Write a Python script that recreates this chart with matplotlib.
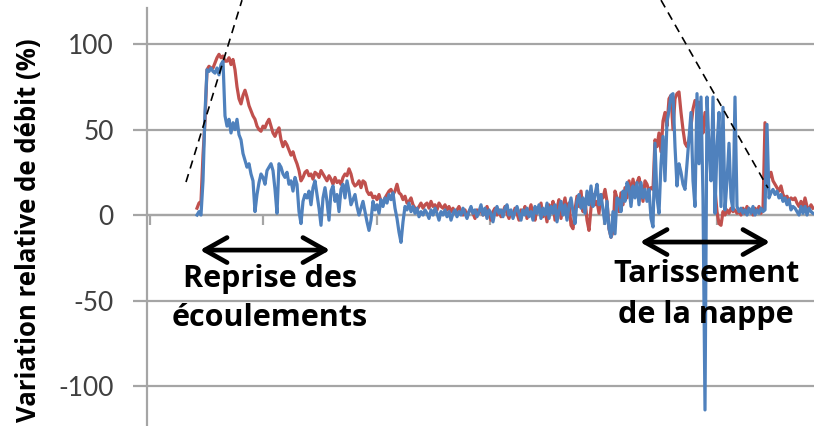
import numpy as np
import matplotlib.pyplot as plt

# variation relative de debit (%) - serie rouge (une valeur par jour)
debit_rouge = [
    4, 7, 8, 35, 55, 85, 87, 86, 86, 89, 92, 94, 92, 93, 90, 90, 92, 88, 91, 85,
    75, 68, 65, 70, 73, 69, 64, 61, 58, 56, 52, 50, 49, 52, 51, 54, 56, 52, 48, 46,
    49, 51, 44, 40, 43, 41, 38, 35, 37, 33, 30, 26, 20,
    22, 25, 26, 23, 24, 21, 25, 24, 22, 26, 24, 22, 20, 23, 21, 18, 22, 19, 20, 18,
    22, 24, 23, 27, 24, 19, 17, 18, 20, 16, 20, 19, 14, 12, 13, 10, 11, 9, 12, 8,
    7, 10, 12, 14, 15, 12, 14, 18, 13, 12, 9, 11, 7, 8, 10, 6, 4, 3, 5, 7,
    4, 6, 7, 4, 8, 5, 6, 3, 7, 5, 4, 6, 3, 5,
    2, 4, 1, 3, 5, 2, 0, 3, -1, 2, 4, 1, -2, 3, 1, 4, 0, 2, 5, 1,
    -3, 2, 4, 0, 3, -1, 2, 5, 1, -2, 2, 0, 4, 1, -3, 3, 1, 5, -2, 2,
    6, 0, -3, 4, 2, 7, -1, 3, -4, 6, 2, 8, -3, 4, 9, -2, 5, 10, 2, 7,
    -6, -8, 3, 11, 5, 14, 2, 9, -3, -9, 4, 12, 6, 8, 1, 12, 10, 15, 8, -8,
    -13, -10, 14, 10, 2, 13, 6, 16, 10, 20, 12, 21, 15, 19, 22, 16, 8, 20, 18, 14,
    16, 15, 44, 40, 48, 37, 55, 60, 52, 68, 70, 50, 68, 71, 72, 60, 50, 42, 40, 44,
    52, 62, 67, 64, 66, 55, 48, 60, 52, 44, 30, 35, 15, 2, -5, -6, 2, 0, 3, 1,
    4, 2, 3, 1, 2, 0, 4, 1, 5, 2, 3, 0, 4, 2, 5, 1, 4, 54,
    20, 22, 25, 20, 18, 16, 14, 17, 12, 10, 11, 8, 10, 9, 10, 7, 5, 8, 4, 10,
    5, 3, 6, 4,
]

# variation relative de debit (%) - serie bleue
debit_bleu = [
    0, 2, 0, 20, 60, 85, 84, 86, 84, 83, 86, 82, 88, 90, 58, 52, 56, 48, 54, 50,
    56, 47, 44, 36, 32, 28, 30, 24, 20, 2, 12, 19, 24, 22, 18, 26, 28, 30, 26, 15,
    1, 30, 28, 24, 22, 25, 18, 20, 14, 22, 18, 2, -5, 8, 12, 10, 14, 6, 16, 20,
    12, 4, -6, 10, 16, 8, -3, 14, 17, 8, 12, 2, 15, 18, 10, 20, 14, 6, 9, 12,
    5, 0, 4, 8, 2, -4, -9, -3, 8, 3, 6, 1, 9, 5, 10, 7, 12, 9, 13, 4,
    -2, -10, -16, -4, 5, 3, 7, 2, 5, 1, 4, -1, 2, 0, 3, 1, -2, 3, 0, 4,
    1, -3, 2, 0, 3, -1, 2, -3, 1,
    3, -1, 2, 0, 4, 1, -2, 2, 5, 1, 3, -1, 2, 6, 0, 4, -2, 3, 1, -4,
    2, 5, 1, 3, -1, 4, 6, 0, 3, -2, 2, 5, 1, -3, 3, 0, 4, -1, 2, -3,
    5, 1, 6, -2, 4, 0, 7, -2, 5, 1, 6, -4, 3, 8, 0, 6, -3, 5, 10, 2,
    -5, 8, 12, 4, 10, 1, 14, 6, 17, 5, 12, 18, 6, 12, 3, -5, 8, -8, -13, 2,
    -11, 10, 9, 2, 14, 8, 19, 16, 5, 17, 10, 19, 6, 19, 10, 15, 8, 15, -2, -7,
    42, 10, 1, 30, 46, 20, 55, 61, 70, 71, 40, 17, 30, 25, 18, 15, 30, 45, 60, 20,
    5, 71, 30, 69, 10, -114, 69, 40, 20, 69, 1, 40, 60, 5, 63, 3, 20, 42, 10, 3,
    69, 5, 2, 4, 1, 3, 0, 4, 1, 5, 0, 3, 1, 4, 2, 3, 53, 10, 13, 15,
    12, 14, 10, 12, 8, 10, 6, 9, 3, 5, 4, 2, 0, 5, 1, 5, 0, 4, 2, 1,
]

jours = np.arange(25, 25 + len(debit_rouge))

yticks = [-100, -50, 0, 50, 100]

gris = "#a5a5a5"

plt.rcParams['font.family'] = ['Open Sans', 'DejaVu Sans']

fig = plt.figure(figsize=(8.14, 4.26), dpi=100)
ax = fig.add_axes([147 / 814, 0, 667 / 814, 418 / 426])

ax.plot(jours, debit_rouge, color="#c0504d", lw=2.3, zorder=3)
ax.plot(jours, debit_bleu, color="#4f81bd", lw=2.3, zorder=4)

ax.set_xlim(0, 333.5)
ax.set_ylim(-123.4, 121.1)
ax.set_yticks(yticks)
ax.set_yticklabels([str(v) for v in yticks], family=['Lato', 'DejaVu Sans'])
ax.set_xticks(np.arange(1.25, 334, 56.75))
ax.set_xticklabels([])

ax.grid(axis='y', color=gris, lw=1.6)
ax.set_axisbelow(True)
for s in ['top', 'right']:
    ax.spines[s].set_visible(False)
ax.spines['left'].set_color(gris)
ax.spines['left'].set_linewidth(1.6)
ax.spines['bottom'].set_position(('data', 0))
ax.spines['bottom'].set_color(gris)
ax.spines['bottom'].set_linewidth(1.6)
ax.tick_params(axis='y', length=10, width=1.6, color=gris, pad=14,
               labelsize=19, labelcolor="#404040")
ax.tick_params(axis='x', length=7, width=1.6, color=gris, direction='out')

# tangentes en pointille
ax.plot([19.5, 47.5], [19.3, 125.7], color='black', lw=1.2,
        ls=(0, (5, 3.5)), clip_on=False, zorder=5)
ax.plot([257, 310.5], [125.7, 15.8], color='black', lw=1.2,
        ls=(0, (5, 3.5)), clip_on=False, zorder=5)

# fleches et textes
fleche = dict(arrowstyle='<->,head_length=0.8,head_width=0.45', lw=3.4,
              color='black', mutation_scale=20, shrinkA=0, shrinkB=0)
ax.annotate('', xy=(26.5, -20.5), xytext=(91.5, -20.5), arrowprops=fleche, zorder=6)
ax.annotate('', xy=(246.5, -15.8), xytext=(311.5, -15.8), arrowprops=fleche, zorder=6)

ax.text(61.5, -49, "Reprise des\nécoulements", ha='center', va='center',
        fontsize=22, fontweight='bold', linespacing=1.4, zorder=7)
ax.text(279.5, -46.5, "Tarissement\nde la nappe", ha='center', va='center',
        fontsize=22, fontweight='bold', linespacing=1.5, zorder=7)

fig.text(29 / 814, 1 - 230 / 426, "Variation relative de débit (%)", rotation=90,
         ha='center', va='center', fontsize=18.5, fontweight='bold')

fig.savefig("out.png", dpi=100)
